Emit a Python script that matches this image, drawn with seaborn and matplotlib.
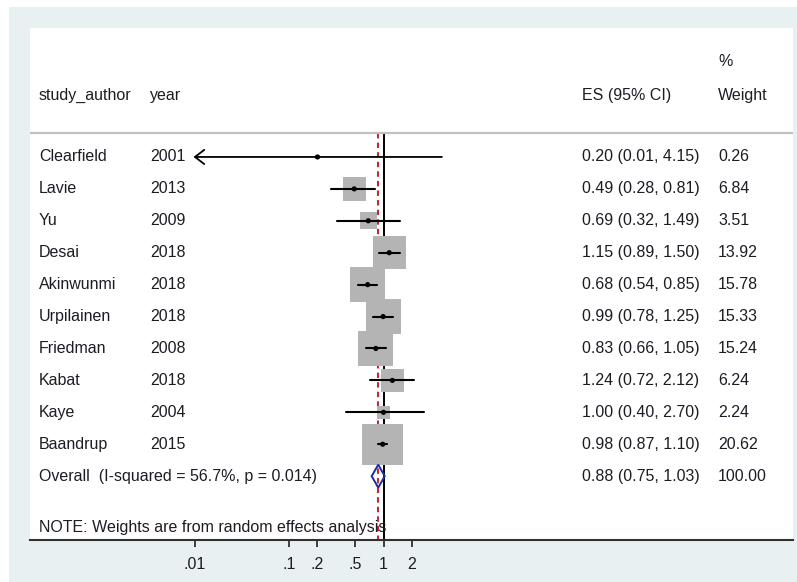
import numpy as np
import pandas as pd
import matplotlib
matplotlib.use('Agg')
import matplotlib.pyplot as plt
import matplotlib.transforms as mtransforms
from matplotlib.patches import Rectangle, Polygon
import seaborn as sns

# data
authors = ['Clearfield', 'Lavie', 'Yu', 'Desai', 'Akinwunmi', 'Urpilainen',
           'Friedman', 'Kabat', 'Kaye', 'Baandrup']
years = [2001, 2013, 2009, 2018, 2018, 2018, 2008, 2018, 2004, 2015]
es = [0.20, 0.49, 0.69, 1.15, 0.68, 0.99, 0.83, 1.24, 1.00, 0.98]
lo = [0.01, 0.28, 0.32, 0.89, 0.54, 0.78, 0.66, 0.72, 0.40, 0.87]
hi = [4.15, 0.81, 1.49, 1.50, 0.85, 1.25, 1.05, 2.12, 2.70, 1.10]
weights = [0.26, 6.84, 3.51, 13.92, 15.78, 15.33, 15.24, 6.24, 2.24, 20.62]
overall_es, overall_lo, overall_hi = 0.88, 0.75, 1.03
i_squared, p_het = 56.7, 0.014
ticks = [0.01, 0.1, 0.2, 0.5, 1, 2]
tick_labels = ['.01', '.1', '.2', '.5', '1', '2']

df = pd.DataFrame({'author': authors, 'year': years, 'es': es, 'lo': lo,
                   'hi': hi, 'weight': weights})
df['row'] = np.arange(len(df))
overall_row = len(df)

sns.set_style('white')
plt.rcParams['font.family'] = ['Liberation Sans', 'DejaVu Sans']

W, H = 797, 582
fig = plt.figure(figsize=(W / 100, H / 100), dpi=100)
fig.patch.set_facecolor('white')
fig.patches.append(Rectangle((9 / W, 0), 1, 1 - 7 / H, transform=fig.transFigure,
                             facecolor='#e8f0f2', edgecolor='none', zorder=-10))

# panel in pixels: x 30..793, y 28..540
ax = fig.add_axes([30 / W, (H - 540) / H, 763 / W, 512 / H])
ax.set_facecolor('white')
ax.set_xscale('log')
px_dec = 94.5
ax.set_xlim(10 ** ((30 - 383.5) / px_dec), 10 ** ((793 - 383.5) / px_dec))
ax.set_ylim(12.0, -4.04)

txt = '#1c1c24'
fs = 11.5

# reference lines
ax.vlines(1, -0.75, 12.0, color='black', lw=1.4, zorder=1)
ax.vlines(overall_es, -0.75, 12.0, color='#c02a3a', lw=1.5,
          linestyles=(0, (2.6, 2.0)), zorder=1)
ax.axhline(-0.75, color='#c0c0c0', lw=1.6, zorder=1)

# weight squares (area proportional to weight)
side_pt = 8.96 * np.sqrt(df['weight']) * 0.72
ax.scatter(df['es'], df['row'], s=side_pt ** 2, marker='s', color='#b4b4b4',
           edgecolor='none', zorder=2)

# confidence intervals
clip = 0.01
for _, r in df.iterrows():
    if r['lo'] <= clip:
        ax.annotate('', xy=(clip * 0.975, r['row']), xytext=(r['hi'], r['row']),
                    arrowprops=dict(arrowstyle='->,head_length=0.42,head_width=0.32',
                                    lw=1.3, color='black', mutation_scale=16,
                                    shrinkA=0, shrinkB=0),
                    zorder=3)
    else:
        ax.plot([r['lo'], r['hi']], [r['row'], r['row']], color='black',
                lw=1.5, zorder=3)

sns.scatterplot(data=df, x='es', y='row', color='black', s=14, marker='o',
                edgecolor='none', zorder=4, ax=ax, legend=False)

# overall diamond
dh = 0.36
ax.add_patch(Polygon([(overall_lo, overall_row), (overall_es, overall_row - dh),
                      (overall_hi, overall_row), (overall_es, overall_row + dh)],
                     closed=True, facecolor='none', edgecolor='#1c2ca8',
                     lw=1.4, zorder=3))

# text columns
tr = mtransforms.blended_transform_factory(ax.transAxes, ax.transData)
cx = [0.0118, 0.157, 0.7235, 0.9017]
ax.text(cx[0], -1.94, 'study_author', transform=tr, va='center', fontsize=fs, color=txt)
ax.text(cx[1], -1.94, 'year', transform=tr, va='center', fontsize=fs, color=txt)
ax.text(cx[2], -1.94, 'ES (95% CI)', transform=tr, va='center', fontsize=fs, color=txt)
ax.text(cx[3], -2.98, '%', transform=tr, va='center', fontsize=fs, color=txt)
ax.text(cx[3], -1.94, 'Weight', transform=tr, va='center', fontsize=fs, color=txt)

for _, r in df.iterrows():
    y = r['row']
    ax.text(cx[0], y, r['author'], transform=tr, va='center', fontsize=fs, color=txt)
    ax.text(cx[1], y, str(r['year']), transform=tr, va='center', fontsize=fs, color=txt)
    ax.text(cx[2], y, f"{r['es']:.2f} ({r['lo']:.2f}, {r['hi']:.2f})", transform=tr,
            va='center', fontsize=fs, color=txt)
    ax.text(cx[3], y, f"{r['weight']:.2f}", transform=tr, va='center', fontsize=fs, color=txt)

ax.text(cx[0], overall_row, f'Overall  (I-squared = {i_squared}%, p = {p_het:.3f})',
        transform=tr, va='center', fontsize=fs, color=txt)
ax.text(cx[2], overall_row, f'{overall_es:.2f} ({overall_lo:.2f}, {overall_hi:.2f})',
        transform=tr, va='center', fontsize=fs, color=txt)
ax.text(cx[3], overall_row, '100.00', transform=tr, va='center', fontsize=fs, color=txt)
ax.text(cx[0], 11.6, 'NOTE: Weights are from random effects analysis', transform=tr,
        va='center', fontsize=fs, color=txt)

# axes styling
for s in ['left', 'right', 'top']:
    ax.spines[s].set_visible(False)
ax.spines['bottom'].set_color('#303030')
ax.spines['bottom'].set_linewidth(1.5)
ax.set_yticks([])
ax.set_xticks(ticks)
ax.set_xticklabels(tick_labels)
ax.xaxis.set_minor_locator(matplotlib.ticker.NullLocator())
ax.tick_params(axis='x', direction='out', length=5, width=1.3, color='#303030',
               labelsize=11.5, labelcolor=txt, pad=7, bottom=True)
ax.set_xlabel('')
ax.set_ylabel('')

fig.savefig('out.png', dpi=100)
